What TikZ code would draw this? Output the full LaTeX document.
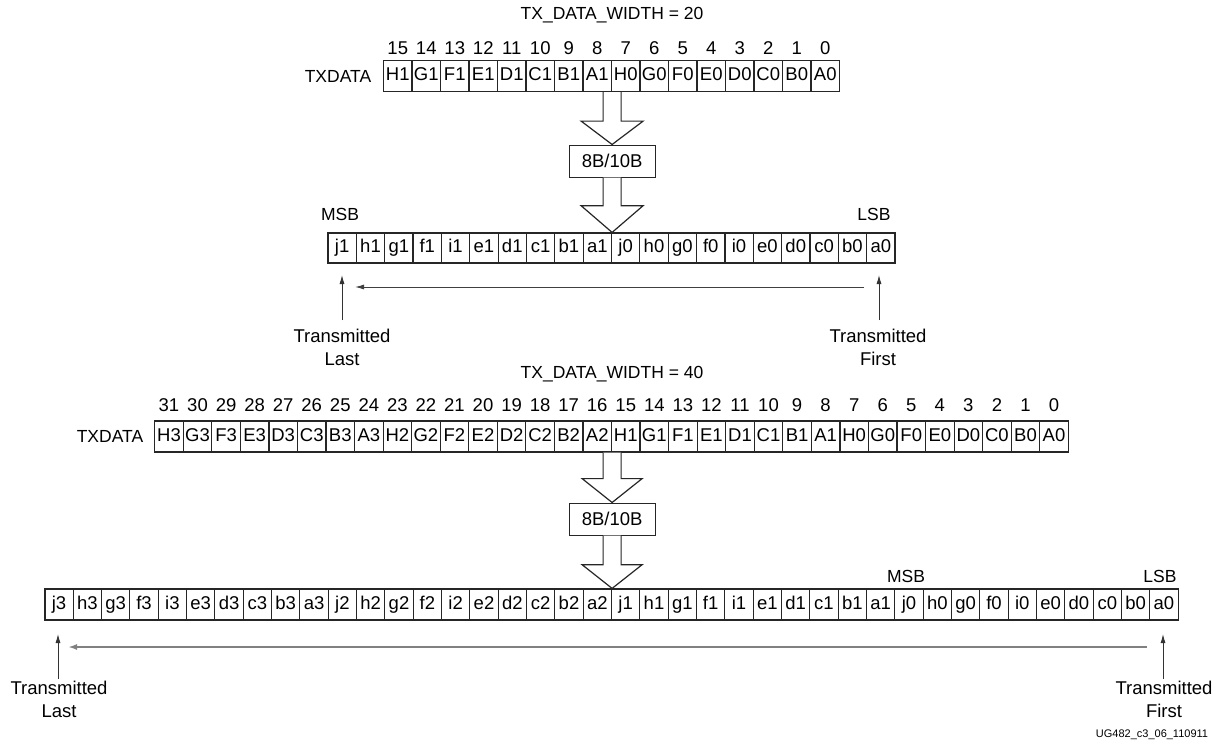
\documentclass[tikz,border=0pt]{standalone}
\usepackage{fontspec}
\setmainfont{Liberation Sans}
\usetikzlibrary{arrows.meta,calc}
\newcommand\fs{\fontsize{17.5}{21}\selectfont}
\newcommand\fsc{\fontsize{18.5}{21}\selectfont}
\newcommand\fst{\fontsize{18.5}{23}\selectfont}
\begin{document}
\begin{tikzpicture}[x=1pt,y=-1pt,
  cell/.style={draw=black!85, line width=1.2pt, minimum height=31pt, inner sep=0pt,
    text height=13pt, text depth=3.5pt, font=\fsc},
  idx/.style={inner sep=0pt, font=\fsc},
  lbl/.style={inner sep=0pt, font=\fs},
  enc/.style={draw=black!85, line width=1.2pt, minimum width=86pt, minimum height=32pt, inner sep=0pt, font=\fsc, fill=white},
  blk/.style={draw=black!85, line width=1.2pt, fill=white, line join=miter},
  tx/.style={align=center, inner sep=0pt, font=\fst},
  thin/.style={draw=black!80, line width=0.9pt, -{Latex[length=9pt,width=5pt]}},
  flow/.style={draw=black!75, line width=1pt, -{Latex[length=9pt,width=5pt]}},
  flowb/.style={draw=black!50, line width=2pt, -{Latex[length=9pt,width=6pt]}}
]
\useasboundingbox (0,0) rectangle (1230,752);

% ---------- TX_DATA_WIDTH = 20 ----------
\node[lbl] (t20) at (612,15) {TX\_DATA\_WIDTH = 20};
\node[lbl] (txd1) at (338,76) {TXDATA};
\foreach \t [count=\i from 0] in {H1,G1,F1,E1,D1,C1,B1,A1,H0,G0,F0,E0,D0,C0,B0,A0}{
  \pgfmathsetmacro\xx{383.5+28.5*(\i+0.5)}
  \pgfmathtruncatemacro\n{15-\i}
  \node[cell, minimum width=28.5pt] (ta\i) at (\xx,76) {\t};
  \node[idx] (tn\i) at (\xx,48) {\n};
}
\foreach \t [count=\i from 0] in {j1,h1,g1,f1,i1,e1,d1,c1,b1,a1,j0,h0,g0,f0,i0,e0,d0,c0,b0,a0}{
  \pgfmathsetmacro\xx{328+28.35*(\i+0.5)}
  \node[cell, minimum width=28.35pt, minimum height=30pt] (mb\i) at (\xx,248) {\t};
}
\node[lbl] (msb1) at (340,214) {MSB};
\node[lbl] (lsb1) at (874,214) {LSB};

\coordinate (c1) at (ta7.south east);
\node[enc] (enc1) at ($(c1)+(0,69)$) {8B/10B};
\coordinate (d1) at (enc1.south |- mb9.north);
\draw[blk] ($(c1)+(-9,0)$) -- ($(c1)+(-9,29)$) -- ($(c1)+(-31,29)$) -- (enc1.north)
  -- ($(c1)+(31,29)$) -- ($(c1)+(9,29)$) -- ($(c1)+(9,0)$);
\draw[blk] ($(enc1.south)+(-9,0)$) -- ($(enc1.south)+(-9,28)$) -- ($(enc1.south)+(-31,28)$) -- (d1)
  -- ($(enc1.south)+(31,28)$) -- ($(enc1.south)+(9,28)$) -- ($(enc1.south)+(9,0)$);

\node[tx] (last1) at (342,347) {Transmitted\\Last};
\node[tx] (first1) at (878,347) {Transmitted\\First};
\coordinate (l1b) at (342,320);
\coordinate (l1t) at (342,275);
\coordinate (f1b) at (879,320);
\coordinate (f1t) at (879,275);
\draw[thin] (l1b) -- (l1t);
\draw[thin] (f1b) -- (f1t);
\coordinate (h1s) at (864,287);
\coordinate (h1e) at (355,287);
\draw[flow] (h1s) -- (h1e);

% ---------- TX_DATA_WIDTH = 40 ----------
\node[lbl] (t40) at (612,374) {TX\_DATA\_WIDTH = 40};
\node[lbl] (txd2) at (110,436) {TXDATA};
\foreach \t [count=\i from 0] in {H3,G3,F3,E3,D3,C3,B3,A3,H2,G2,F2,E2,D2,C2,B2,A2,H1,G1,F1,E1,D1,C1,B1,A1,H0,G0,F0,E0,D0,C0,B0,A0}{
  \pgfmathsetmacro\xx{154.7+28.55*(\i+0.5)}
  \pgfmathtruncatemacro\n{31-\i}
  \node[cell, minimum width=28.55pt] (tb\i) at (\xx,436.5) {\t};
  \node[idx] (un\i) at (\xx,405) {\n};
}
\foreach \t [count=\i from 0] in {j3,h3,g3,f3,i3,e3,d3,c3,b3,a3,j2,h2,g2,f2,i2,e2,d2,c2,b2,a2,j1,h1,g1,f1,i1,e1,d1,c1,b1,a1,j0,h0,g0,f0,i0,e0,d0,c0,b0,a0}{
  \pgfmathsetmacro\xx{44.9+28.33*(\i+0.5)}
  \node[cell, minimum width=28.33pt] (bb\i) at (\xx,604.5) {\t};
}
\node[lbl] (msb2) at (906,576) {MSB};
\node[lbl] (lsb2) at (1160,576) {LSB};

\coordinate (c2) at (tb15.south east);
\node[enc] (enc2) at ($(c2)+(0,66.5)$) {8B/10B};
\coordinate (d2) at (enc2.south |- bb19.north);
\draw[blk] ($(c2)+(-9,0)$) -- ($(c2)+(-9,26)$) -- ($(c2)+(-30,26)$) -- (enc2.north)
  -- ($(c2)+(30,26)$) -- ($(c2)+(9,26)$) -- ($(c2)+(9,0)$);
\draw[blk] ($(enc2.south)+(-9,0)$) -- ($(enc2.south)+(-9,29)$) -- ($(enc2.south)+(-30,29)$) -- (d2)
  -- ($(enc2.south)+(30,29)$) -- ($(enc2.south)+(9,29)$) -- ($(enc2.south)+(9,0)$);

\node[tx] (last2) at (59,699) {Transmitted\\Last};
\node[tx] (first2) at (1164,699) {Transmitted\\First};
\coordinate (l2b) at (58,679);
\coordinate (l2t) at (58,634);
\coordinate (f2b) at (1163,679);
\coordinate (f2t) at (1163,634);
\draw[thin] (l2b) -- (l2t);
\draw[thin] (f2b) -- (f2t);
\coordinate (h2s) at (1147,647);
\coordinate (h2e) at (68,647);
\draw[flowb] (h2s) -- (h2e);

\node[inner sep=0pt, font=\fontsize{11}{13}\selectfont] (ug) at (1152,735) {UG482\_c3\_06\_110911};
\end{tikzpicture}
\end{document}
